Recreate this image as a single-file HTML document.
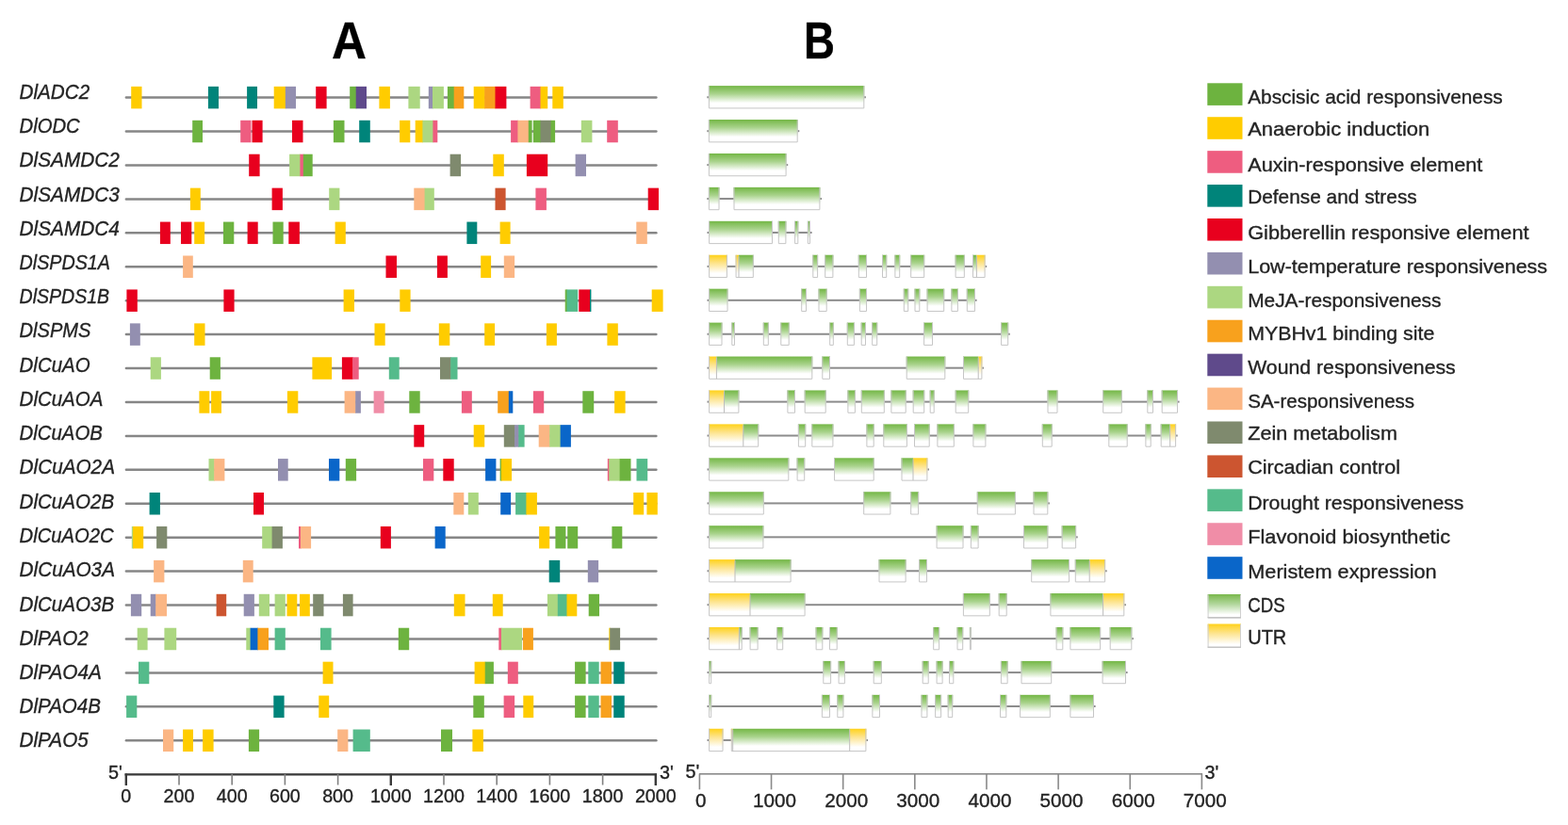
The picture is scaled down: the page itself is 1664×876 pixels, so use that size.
<!DOCTYPE html><html><head><meta charset="utf-8"><title>Cis-elements and gene structures</title><style>html,body{margin:0;padding:0;background:#fff;}svg{display:block;} text.t{stroke:#232323;stroke-width:0.35px;paint-order:stroke;}</style></head><body>
<svg width="1664" height="876" viewBox="0 0 1664 876">
<defs><linearGradient id="gc" x1="0" y1="0" x2="0" y2="1"><stop offset="0" stop-color="#74b746"/><stop offset="0.35" stop-color="#a9d38c"/><stop offset="0.75" stop-color="#ffffff"/><stop offset="1" stop-color="#ffffff"/></linearGradient>
<linearGradient id="gu" x1="0" y1="0" x2="0" y2="1"><stop offset="0" stop-color="#ffd21a"/><stop offset="0.35" stop-color="#fde38a"/><stop offset="0.8" stop-color="#ffffff"/><stop offset="1" stop-color="#ffffff"/></linearGradient><linearGradient id="Lc" x1="0" y1="0" x2="0" y2="1"><stop offset="0" stop-color="#79b84c"/><stop offset="0.4" stop-color="#b0d69a"/><stop offset="0.85" stop-color="#ffffff"/></linearGradient><linearGradient id="Lu" x1="0" y1="0" x2="0" y2="1"><stop offset="0" stop-color="#ffd11a"/><stop offset="0.4" stop-color="#fde592"/><stop offset="0.85" stop-color="#ffffff"/></linearGradient></defs>
<rect width="1664" height="876" fill="#fff"/>
<text class="t" x="352" y="62.2" font-family="&quot;Liberation Sans&quot;, sans-serif" font-weight="bold" font-size="56.3" textLength="37" lengthAdjust="spacingAndGlyphs" fill="#000">A</text>
<text class="t" x="853" y="62.2" font-family="&quot;Liberation Sans&quot;, sans-serif" font-weight="bold" font-size="56.3" textLength="33" lengthAdjust="spacingAndGlyphs" fill="#000">B</text>
<g id="panelA">
<line x1="133.9" y1="103.6" x2="696.4" y2="103.6" stroke="#868686" stroke-width="2.5" stroke-linecap="round"/>
<rect x="139.2" y="91.85" width="11.3" height="23.5" fill="#ffcc00"/>
<rect x="220.9" y="91.85" width="11.1" height="23.5" fill="#00847a"/>
<rect x="262.1" y="91.85" width="10.9" height="23.5" fill="#00847a"/>
<rect x="290.7" y="91.85" width="12.7" height="23.5" fill="#ffcc00"/>
<rect x="302.8" y="91.85" width="11.2" height="23.5" fill="#938fb0"/>
<rect x="335.2" y="91.85" width="11.4" height="23.5" fill="#e8001e"/>
<rect x="371.2" y="91.85" width="7.1" height="23.5" fill="#6db33f"/>
<rect x="377.7" y="91.85" width="11.3" height="23.5" fill="#5f4a8b"/>
<rect x="402.4" y="91.85" width="11.5" height="23.5" fill="#ffcc00"/>
<rect x="433.4" y="91.85" width="12.3" height="23.5" fill="#acd781"/>
<rect x="454.8" y="91.85" width="4.8" height="23.5" fill="#938fb0"/>
<rect x="459" y="91.85" width="11.9" height="23.5" fill="#acd781"/>
<rect x="474.9" y="91.85" width="7.4" height="23.5" fill="#6db33f"/>
<rect x="481.7" y="91.85" width="10.6" height="23.5" fill="#f8a11d"/>
<rect x="502.7" y="91.85" width="12.1" height="23.5" fill="#ffcc00"/>
<rect x="514.2" y="91.85" width="11.9" height="23.5" fill="#f8a11d"/>
<rect x="525.5" y="91.85" width="11.9" height="23.5" fill="#e8001e"/>
<rect x="562.6" y="91.85" width="11.5" height="23.5" fill="#ee5d80"/>
<rect x="573.5" y="91.85" width="7.7" height="23.5" fill="#ffcc00"/>
<rect x="586.3" y="91.85" width="11.5" height="23.5" fill="#ffcc00"/>
<text class="t" x="20.6" y="105.4" font-family="&quot;Liberation Sans&quot;, sans-serif" font-style="italic" font-size="21.4" textLength="74.55" lengthAdjust="spacingAndGlyphs" fill="#232323">DlADC2</text>
<line x1="133.9" y1="139.53" x2="696.4" y2="139.53" stroke="#868686" stroke-width="2.5" stroke-linecap="round"/>
<rect x="204.2" y="127.78" width="10.8" height="23.5" fill="#6db33f"/>
<rect x="255.2" y="127.78" width="11.3" height="23.5" fill="#ee5d80"/>
<rect x="267.5" y="127.78" width="11.1" height="23.5" fill="#e8001e"/>
<rect x="310" y="127.78" width="11.5" height="23.5" fill="#e8001e"/>
<rect x="353.9" y="127.78" width="11.6" height="23.5" fill="#6db33f"/>
<rect x="381.2" y="127.78" width="11.6" height="23.5" fill="#00847a"/>
<rect x="424.1" y="127.78" width="11.2" height="23.5" fill="#ffcc00"/>
<rect x="440.7" y="127.78" width="8.3" height="23.5" fill="#ffcc00"/>
<rect x="448.4" y="127.78" width="11.6" height="23.5" fill="#acd781"/>
<rect x="459.4" y="127.78" width="4.9" height="23.5" fill="#ee5d80"/>
<rect x="542.1" y="127.78" width="7.9" height="23.5" fill="#ee5d80"/>
<rect x="549.4" y="127.78" width="12" height="23.5" fill="#fbb684"/>
<rect x="560.8" y="127.78" width="3.8" height="23.5" fill="#6db33f"/>
<rect x="565.8" y="127.78" width="8.3" height="23.5" fill="#6db33f"/>
<rect x="573.5" y="127.78" width="11.6" height="23.5" fill="#7f8a6e"/>
<rect x="584.5" y="127.78" width="4.6" height="23.5" fill="#6db33f"/>
<rect x="616.8" y="127.78" width="11.6" height="23.5" fill="#acd781"/>
<rect x="644.2" y="127.78" width="11.6" height="23.5" fill="#ee5d80"/>
<text class="t" x="20.6" y="141.3" font-family="&quot;Liberation Sans&quot;, sans-serif" font-style="italic" font-size="21.4" textLength="64.07" lengthAdjust="spacingAndGlyphs" fill="#232323">DlODC</text>
<line x1="133.9" y1="175.46" x2="696.4" y2="175.46" stroke="#868686" stroke-width="2.5" stroke-linecap="round"/>
<rect x="264.2" y="163.71" width="11.4" height="23.5" fill="#e8001e"/>
<rect x="307.1" y="163.71" width="11.9" height="23.5" fill="#acd781"/>
<rect x="318.4" y="163.71" width="4" height="23.5" fill="#ee5d80"/>
<rect x="321.8" y="163.71" width="9.9" height="23.5" fill="#6db33f"/>
<rect x="477.6" y="163.71" width="11.5" height="23.5" fill="#7f8a6e"/>
<rect x="523.3" y="163.71" width="11.5" height="23.5" fill="#ffcc00"/>
<rect x="558.9" y="163.71" width="22.3" height="23.5" fill="#e8001e"/>
<rect x="610.6" y="163.71" width="11.4" height="23.5" fill="#938fb0"/>
<text class="t" x="20.6" y="176.9" font-family="&quot;Liberation Sans&quot;, sans-serif" font-style="italic" font-size="21.4" textLength="106.18" lengthAdjust="spacingAndGlyphs" fill="#232323">DlSAMDC2</text>
<line x1="133.9" y1="211.39" x2="696.4" y2="211.39" stroke="#868686" stroke-width="2.5" stroke-linecap="round"/>
<rect x="201.9" y="199.64" width="10.9" height="23.5" fill="#ffcc00"/>
<rect x="288.6" y="199.64" width="11.3" height="23.5" fill="#e8001e"/>
<rect x="349.2" y="199.64" width="11.2" height="23.5" fill="#acd781"/>
<rect x="439.3" y="199.64" width="11.9" height="23.5" fill="#fbb684"/>
<rect x="450.6" y="199.64" width="10.2" height="23.5" fill="#acd781"/>
<rect x="525.5" y="199.64" width="11.1" height="23.5" fill="#cc5530"/>
<rect x="568.4" y="199.64" width="11.5" height="23.5" fill="#ee5d80"/>
<rect x="687.7" y="199.64" width="11.3" height="23.5" fill="#e8001e"/>
<text class="t" x="20.6" y="213.7" font-family="&quot;Liberation Sans&quot;, sans-serif" font-style="italic" font-size="21.4" textLength="106.18" lengthAdjust="spacingAndGlyphs" fill="#232323">DlSAMDC3</text>
<line x1="133.9" y1="247.32" x2="696.4" y2="247.32" stroke="#868686" stroke-width="2.5" stroke-linecap="round"/>
<rect x="169.9" y="235.57" width="10.9" height="23.5" fill="#e8001e"/>
<rect x="192" y="235.57" width="11.3" height="23.5" fill="#e8001e"/>
<rect x="206.2" y="235.57" width="10.9" height="23.5" fill="#ffcc00"/>
<rect x="237" y="235.57" width="11.3" height="23.5" fill="#6db33f"/>
<rect x="262.6" y="235.57" width="11.1" height="23.5" fill="#e8001e"/>
<rect x="289.5" y="235.57" width="11.2" height="23.5" fill="#6db33f"/>
<rect x="306.3" y="235.57" width="11.6" height="23.5" fill="#e8001e"/>
<rect x="355.6" y="235.57" width="11.2" height="23.5" fill="#ffcc00"/>
<rect x="495.4" y="235.57" width="10.9" height="23.5" fill="#00847a"/>
<rect x="530.6" y="235.57" width="11" height="23.5" fill="#ffcc00"/>
<rect x="675.3" y="235.57" width="11.5" height="23.5" fill="#fbb684"/>
<text class="t" x="20.6" y="250.2" font-family="&quot;Liberation Sans&quot;, sans-serif" font-style="italic" font-size="21.4" textLength="106.18" lengthAdjust="spacingAndGlyphs" fill="#232323">DlSAMDC4</text>
<line x1="133.9" y1="283.25" x2="696.4" y2="283.25" stroke="#868686" stroke-width="2.5" stroke-linecap="round"/>
<rect x="194.1" y="271.5" width="10.7" height="23.5" fill="#fbb684"/>
<rect x="409.5" y="271.5" width="11.5" height="23.5" fill="#e8001e"/>
<rect x="463.9" y="271.5" width="11" height="23.5" fill="#e8001e"/>
<rect x="510.2" y="271.5" width="10.9" height="23.5" fill="#ffcc00"/>
<rect x="534.8" y="271.5" width="11.3" height="23.5" fill="#fbb684"/>
<text class="t" x="20.6" y="286.4" font-family="&quot;Liberation Sans&quot;, sans-serif" font-style="italic" font-size="21.4" textLength="96.38" lengthAdjust="spacingAndGlyphs" fill="#232323">DlSPDS1A</text>
<line x1="133.9" y1="319.18" x2="696.4" y2="319.18" stroke="#868686" stroke-width="2.5" stroke-linecap="round"/>
<rect x="134.4" y="307.43" width="11.4" height="23.5" fill="#e8001e"/>
<rect x="237.4" y="307.43" width="11.2" height="23.5" fill="#e8001e"/>
<rect x="364.6" y="307.43" width="11.4" height="23.5" fill="#ffcc00"/>
<rect x="424.3" y="307.43" width="11.3" height="23.5" fill="#ffcc00"/>
<rect x="599.7" y="307.43" width="2.4" height="23.5" fill="#6db33f"/>
<rect x="601.5" y="307.43" width="11.7" height="23.5" fill="#55bb8b"/>
<rect x="614.3" y="307.43" width="12.3" height="23.5" fill="#e8001e"/>
<rect x="626" y="307.43" width="1.4" height="23.5" fill="#00847a"/>
<rect x="691.7" y="307.43" width="11.9" height="23.5" fill="#ffcc00"/>
<text class="t" x="20.6" y="322" font-family="&quot;Liberation Sans&quot;, sans-serif" font-style="italic" font-size="21.4" textLength="95.54" lengthAdjust="spacingAndGlyphs" fill="#232323">DlSPDS1B</text>
<line x1="133.9" y1="355.11" x2="696.4" y2="355.11" stroke="#868686" stroke-width="2.5" stroke-linecap="round"/>
<rect x="137.9" y="343.36" width="10.9" height="23.5" fill="#938fb0"/>
<rect x="206.2" y="343.36" width="11.3" height="23.5" fill="#ffcc00"/>
<rect x="397.5" y="343.36" width="11.2" height="23.5" fill="#ffcc00"/>
<rect x="465.8" y="343.36" width="11.5" height="23.5" fill="#ffcc00"/>
<rect x="514.2" y="343.36" width="10.9" height="23.5" fill="#ffcc00"/>
<rect x="579.9" y="343.36" width="11" height="23.5" fill="#ffcc00"/>
<rect x="644.4" y="343.36" width="11.4" height="23.5" fill="#ffcc00"/>
<text class="t" x="20.6" y="357.9" font-family="&quot;Liberation Sans&quot;, sans-serif" font-style="italic" font-size="21.4" textLength="75.83" lengthAdjust="spacingAndGlyphs" fill="#232323">DlSPMS</text>
<line x1="133.9" y1="391.04" x2="696.4" y2="391.04" stroke="#868686" stroke-width="2.5" stroke-linecap="round"/>
<rect x="159.7" y="379.29" width="11.2" height="23.5" fill="#acd781"/>
<rect x="222.7" y="379.29" width="11.2" height="23.5" fill="#6db33f"/>
<rect x="331.4" y="379.29" width="20.7" height="23.5" fill="#ffcc00"/>
<rect x="362.9" y="379.29" width="11.8" height="23.5" fill="#e8001e"/>
<rect x="374.1" y="379.29" width="6.6" height="23.5" fill="#ee5d80"/>
<rect x="412.8" y="379.29" width="10.9" height="23.5" fill="#55bb8b"/>
<rect x="467" y="379.29" width="11.8" height="23.5" fill="#7f8a6e"/>
<rect x="478.2" y="379.29" width="7.3" height="23.5" fill="#55bb8b"/>
<text class="t" x="20.6" y="395.3" font-family="&quot;Liberation Sans&quot;, sans-serif" font-style="italic" font-size="21.4" textLength="74.99" lengthAdjust="spacingAndGlyphs" fill="#232323">DlCuAO</text>
<line x1="133.9" y1="426.97" x2="696.4" y2="426.97" stroke="#868686" stroke-width="2.5" stroke-linecap="round"/>
<rect x="211.4" y="415.22" width="10.9" height="23.5" fill="#ffcc00"/>
<rect x="224.1" y="415.22" width="10.9" height="23.5" fill="#ffcc00"/>
<rect x="304.9" y="415.22" width="11.4" height="23.5" fill="#ffcc00"/>
<rect x="365.6" y="415.22" width="12.2" height="23.5" fill="#fbb684"/>
<rect x="377.2" y="415.22" width="5.7" height="23.5" fill="#938fb0"/>
<rect x="396.6" y="415.22" width="11.1" height="23.5" fill="#f08da7"/>
<rect x="434.3" y="415.22" width="11.4" height="23.5" fill="#6db33f"/>
<rect x="489.9" y="415.22" width="10.9" height="23.5" fill="#ee5d80"/>
<rect x="528.2" y="415.22" width="12.2" height="23.5" fill="#f8a11d"/>
<rect x="539.8" y="415.22" width="4.5" height="23.5" fill="#0a66c9"/>
<rect x="565.9" y="415.22" width="11.3" height="23.5" fill="#ee5d80"/>
<rect x="618.3" y="415.22" width="11.9" height="23.5" fill="#6db33f"/>
<rect x="652.1" y="415.22" width="11.5" height="23.5" fill="#ffcc00"/>
<text class="t" x="20.6" y="430.6" font-family="&quot;Liberation Sans&quot;, sans-serif" font-style="italic" font-size="21.4" textLength="88.78" lengthAdjust="spacingAndGlyphs" fill="#232323">DlCuAOA</text>
<line x1="133.9" y1="462.9" x2="696.4" y2="462.9" stroke="#868686" stroke-width="2.5" stroke-linecap="round"/>
<rect x="439.3" y="451.15" width="10.9" height="23.5" fill="#e8001e"/>
<rect x="502.7" y="451.15" width="11.5" height="23.5" fill="#ffcc00"/>
<rect x="534.8" y="451.15" width="11.9" height="23.5" fill="#7f8a6e"/>
<rect x="546.1" y="451.15" width="4.8" height="23.5" fill="#938fb0"/>
<rect x="550.3" y="451.15" width="6.3" height="23.5" fill="#55bb8b"/>
<rect x="571.7" y="451.15" width="12.1" height="23.5" fill="#fbb684"/>
<rect x="583.2" y="451.15" width="12" height="23.5" fill="#acd781"/>
<rect x="594.6" y="451.15" width="11.3" height="23.5" fill="#0a66c9"/>
<text class="t" x="20.6" y="467.4" font-family="&quot;Liberation Sans&quot;, sans-serif" font-style="italic" font-size="21.4" textLength="88.21" lengthAdjust="spacingAndGlyphs" fill="#232323">DlCuAOB</text>
<line x1="133.9" y1="498.83" x2="696.4" y2="498.83" stroke="#868686" stroke-width="2.5" stroke-linecap="round"/>
<rect x="221.5" y="487.08" width="6.3" height="23.5" fill="#acd781"/>
<rect x="227.2" y="487.08" width="11.2" height="23.5" fill="#fbb684"/>
<rect x="295" y="487.08" width="10.7" height="23.5" fill="#938fb0"/>
<rect x="349" y="487.08" width="11.3" height="23.5" fill="#0a66c9"/>
<rect x="366.8" y="487.08" width="11.3" height="23.5" fill="#6db33f"/>
<rect x="449" y="487.08" width="11.3" height="23.5" fill="#ee5d80"/>
<rect x="470.3" y="487.08" width="11.4" height="23.5" fill="#e8001e"/>
<rect x="515.1" y="487.08" width="11.3" height="23.5" fill="#0a66c9"/>
<rect x="530.6" y="487.08" width="1.9" height="23.5" fill="#6db33f"/>
<rect x="531.9" y="487.08" width="11.1" height="23.5" fill="#ffcc00"/>
<rect x="644.8" y="487.08" width="2.1" height="23.5" fill="#ee5d80"/>
<rect x="646.3" y="487.08" width="11.9" height="23.5" fill="#acd781"/>
<rect x="657.6" y="487.08" width="11.9" height="23.5" fill="#6db33f"/>
<rect x="675.5" y="487.08" width="11.7" height="23.5" fill="#55bb8b"/>
<text class="t" x="20.6" y="503.4" font-family="&quot;Liberation Sans&quot;, sans-serif" font-style="italic" font-size="21.4" textLength="101.37" lengthAdjust="spacingAndGlyphs" fill="#232323">DlCuAO2A</text>
<line x1="133.9" y1="534.76" x2="696.4" y2="534.76" stroke="#868686" stroke-width="2.5" stroke-linecap="round"/>
<rect x="158.6" y="523.01" width="11.3" height="23.5" fill="#00847a"/>
<rect x="269" y="523.01" width="11" height="23.5" fill="#e8001e"/>
<rect x="481.3" y="523.01" width="11" height="23.5" fill="#fbb684"/>
<rect x="496.8" y="523.01" width="11" height="23.5" fill="#acd781"/>
<rect x="531.2" y="523.01" width="10.9" height="23.5" fill="#0a66c9"/>
<rect x="547.1" y="523.01" width="11.9" height="23.5" fill="#55bb8b"/>
<rect x="558.4" y="523.01" width="11.5" height="23.5" fill="#ffcc00"/>
<rect x="672.2" y="523.01" width="11" height="23.5" fill="#ffcc00"/>
<rect x="686.4" y="523.01" width="11.4" height="23.5" fill="#ffcc00"/>
<text class="t" x="20.6" y="539.8" font-family="&quot;Liberation Sans&quot;, sans-serif" font-style="italic" font-size="21.4" textLength="100.52" lengthAdjust="spacingAndGlyphs" fill="#232323">DlCuAO2B</text>
<line x1="133.9" y1="570.69" x2="696.4" y2="570.69" stroke="#868686" stroke-width="2.5" stroke-linecap="round"/>
<rect x="139.8" y="558.94" width="1.8" height="23.5" fill="#acd781"/>
<rect x="141" y="558.94" width="11.2" height="23.5" fill="#ffcc00"/>
<rect x="166.1" y="558.94" width="11.2" height="23.5" fill="#7f8a6e"/>
<rect x="278.2" y="558.94" width="11" height="23.5" fill="#acd781"/>
<rect x="288.6" y="558.94" width="11.3" height="23.5" fill="#7f8a6e"/>
<rect x="317" y="558.94" width="2.6" height="23.5" fill="#ee5d80"/>
<rect x="319" y="558.94" width="11.1" height="23.5" fill="#fbb684"/>
<rect x="403.8" y="558.94" width="11.1" height="23.5" fill="#e8001e"/>
<rect x="461.6" y="558.94" width="11.1" height="23.5" fill="#0a66c9"/>
<rect x="572.1" y="558.94" width="11.1" height="23.5" fill="#ffcc00"/>
<rect x="589.4" y="558.94" width="11" height="23.5" fill="#6db33f"/>
<rect x="602.2" y="558.94" width="11" height="23.5" fill="#6db33f"/>
<rect x="649.4" y="558.94" width="10.9" height="23.5" fill="#6db33f"/>
<text class="t" x="20.6" y="575.9" font-family="&quot;Liberation Sans&quot;, sans-serif" font-style="italic" font-size="21.4" textLength="100" lengthAdjust="spacingAndGlyphs" fill="#232323">DlCuAO2C</text>
<line x1="133.9" y1="606.62" x2="696.4" y2="606.62" stroke="#868686" stroke-width="2.5" stroke-linecap="round"/>
<rect x="163.1" y="594.87" width="11.3" height="23.5" fill="#fbb684"/>
<rect x="257.8" y="594.87" width="10.9" height="23.5" fill="#fbb684"/>
<rect x="582.7" y="594.87" width="11.5" height="23.5" fill="#00847a"/>
<rect x="623.8" y="594.87" width="11.3" height="23.5" fill="#938fb0"/>
<text class="t" x="20.6" y="611.9" font-family="&quot;Liberation Sans&quot;, sans-serif" font-style="italic" font-size="21.4" textLength="101.37" lengthAdjust="spacingAndGlyphs" fill="#232323">DlCuAO3A</text>
<line x1="133.9" y1="642.55" x2="696.4" y2="642.55" stroke="#868686" stroke-width="2.5" stroke-linecap="round"/>
<rect x="138.9" y="630.8" width="11.3" height="23.5" fill="#938fb0"/>
<rect x="159.7" y="630.8" width="6.1" height="23.5" fill="#938fb0"/>
<rect x="165.2" y="630.8" width="11.8" height="23.5" fill="#fbb684"/>
<rect x="229.6" y="630.8" width="10.6" height="23.5" fill="#cc5530"/>
<rect x="258.7" y="630.8" width="11.2" height="23.5" fill="#938fb0"/>
<rect x="274.8" y="630.8" width="11.2" height="23.5" fill="#acd781"/>
<rect x="291.6" y="630.8" width="11.2" height="23.5" fill="#acd781"/>
<rect x="304.5" y="630.8" width="10.8" height="23.5" fill="#ffcc00"/>
<rect x="318" y="630.8" width="10.8" height="23.5" fill="#ffcc00"/>
<rect x="332.2" y="630.8" width="11.3" height="23.5" fill="#7f8a6e"/>
<rect x="363.9" y="630.8" width="10.7" height="23.5" fill="#7f8a6e"/>
<rect x="481.8" y="630.8" width="11.7" height="23.5" fill="#ffcc00"/>
<rect x="522.8" y="630.8" width="10.9" height="23.5" fill="#ffcc00"/>
<rect x="580.9" y="630.8" width="11.5" height="23.5" fill="#acd781"/>
<rect x="591.8" y="630.8" width="10.3" height="23.5" fill="#55bb8b"/>
<rect x="601.5" y="630.8" width="10.8" height="23.5" fill="#ffcc00"/>
<rect x="624.7" y="630.8" width="11.3" height="23.5" fill="#6db33f"/>
<text class="t" x="20.6" y="648.5" font-family="&quot;Liberation Sans&quot;, sans-serif" font-style="italic" font-size="21.4" textLength="100.52" lengthAdjust="spacingAndGlyphs" fill="#232323">DlCuAO3B</text>
<line x1="133.9" y1="678.48" x2="696.4" y2="678.48" stroke="#868686" stroke-width="2.5" stroke-linecap="round"/>
<rect x="145.7" y="666.73" width="10.9" height="23.5" fill="#acd781"/>
<rect x="174.4" y="666.73" width="12.8" height="23.5" fill="#acd781"/>
<rect x="261.3" y="666.73" width="4.9" height="23.5" fill="#acd781"/>
<rect x="265.6" y="666.73" width="8.4" height="23.5" fill="#0a66c9"/>
<rect x="273.4" y="666.73" width="11.6" height="23.5" fill="#f8a11d"/>
<rect x="291.6" y="666.73" width="11.2" height="23.5" fill="#55bb8b"/>
<rect x="340" y="666.73" width="11.6" height="23.5" fill="#55bb8b"/>
<rect x="422.8" y="666.73" width="11.4" height="23.5" fill="#6db33f"/>
<rect x="529.3" y="666.73" width="3.2" height="23.5" fill="#ee5d80"/>
<rect x="531.9" y="666.73" width="22.1" height="23.5" fill="#acd781"/>
<rect x="554.9" y="666.73" width="11" height="23.5" fill="#f8a11d"/>
<rect x="646.3" y="666.73" width="1.5" height="23.5" fill="#ffcc00"/>
<rect x="647.2" y="666.73" width="10.9" height="23.5" fill="#7f8a6e"/>
<text class="t" x="20.6" y="685" font-family="&quot;Liberation Sans&quot;, sans-serif" font-style="italic" font-size="21.4" textLength="73.13" lengthAdjust="spacingAndGlyphs" fill="#232323">DlPAO2</text>
<line x1="133.9" y1="714.41" x2="696.4" y2="714.41" stroke="#868686" stroke-width="2.5" stroke-linecap="round"/>
<rect x="147" y="702.66" width="11.3" height="23.5" fill="#55bb8b"/>
<rect x="342.6" y="702.66" width="10.9" height="23.5" fill="#ffcc00"/>
<rect x="503.6" y="702.66" width="11.7" height="23.5" fill="#ffcc00"/>
<rect x="514.7" y="702.66" width="9.2" height="23.5" fill="#6db33f"/>
<rect x="538.8" y="702.66" width="11" height="23.5" fill="#ee5d80"/>
<rect x="610.1" y="702.66" width="11.5" height="23.5" fill="#6db33f"/>
<rect x="624.3" y="702.66" width="11.4" height="23.5" fill="#55bb8b"/>
<rect x="637.5" y="702.66" width="11.5" height="23.5" fill="#f8a11d"/>
<rect x="651.2" y="702.66" width="11.5" height="23.5" fill="#00847a"/>
<text class="t" x="20.6" y="721.4" font-family="&quot;Liberation Sans&quot;, sans-serif" font-style="italic" font-size="21.4" textLength="87.19" lengthAdjust="spacingAndGlyphs" fill="#232323">DlPAO4A</text>
<line x1="133.9" y1="750.34" x2="696.4" y2="750.34" stroke="#868686" stroke-width="2.5" stroke-linecap="round"/>
<rect x="134.1" y="738.59" width="11.2" height="23.5" fill="#55bb8b"/>
<rect x="290.3" y="738.59" width="11.3" height="23.5" fill="#00847a"/>
<rect x="338.3" y="738.59" width="10.9" height="23.5" fill="#ffcc00"/>
<rect x="502.3" y="738.59" width="11.5" height="23.5" fill="#6db33f"/>
<rect x="534.6" y="738.59" width="11.5" height="23.5" fill="#ee5d80"/>
<rect x="555.3" y="738.59" width="10.9" height="23.5" fill="#ffcc00"/>
<rect x="610.1" y="738.59" width="11.5" height="23.5" fill="#6db33f"/>
<rect x="624.3" y="738.59" width="11.4" height="23.5" fill="#55bb8b"/>
<rect x="637.5" y="738.59" width="11.5" height="23.5" fill="#f8a11d"/>
<rect x="651.2" y="738.59" width="11.5" height="23.5" fill="#00847a"/>
<text class="t" x="20.6" y="757" font-family="&quot;Liberation Sans&quot;, sans-serif" font-style="italic" font-size="21.4" textLength="86.34" lengthAdjust="spacingAndGlyphs" fill="#232323">DlPAO4B</text>
<line x1="133.9" y1="786.27" x2="696.4" y2="786.27" stroke="#868686" stroke-width="2.5" stroke-linecap="round"/>
<rect x="173" y="774.52" width="11.2" height="23.5" fill="#fbb684"/>
<rect x="194.1" y="774.52" width="10.9" height="23.5" fill="#ffcc00"/>
<rect x="215.1" y="774.52" width="11.5" height="23.5" fill="#ffcc00"/>
<rect x="263.9" y="774.52" width="11.2" height="23.5" fill="#6db33f"/>
<rect x="358.2" y="774.52" width="11.2" height="23.5" fill="#fbb684"/>
<rect x="374.6" y="774.52" width="18.2" height="23.5" fill="#55bb8b"/>
<rect x="468" y="774.52" width="12" height="23.5" fill="#6db33f"/>
<rect x="501.4" y="774.52" width="11.5" height="23.5" fill="#ffcc00"/>
<text class="t" x="20.6" y="792.9" font-family="&quot;Liberation Sans&quot;, sans-serif" font-style="italic" font-size="21.4" textLength="73.13" lengthAdjust="spacingAndGlyphs" fill="#232323">DlPAO5</text>
</g>
<g id="panelB">
<rect x="750.3" y="102.25" width="168.6" height="2" fill="#8c8c8c"/>
<rect x="751.9" y="91.1" width="165.4" height="24.3" fill="url(#gc)"/>
<path d="M752.4 91.1V114.9H916.8V91.1" fill="none" stroke="#c6c6c6" stroke-width="1"/>
<rect x="750.3" y="138.18" width="98" height="2" fill="#8c8c8c"/>
<rect x="751.9" y="127.03" width="94.8" height="24.3" fill="url(#gc)"/>
<path d="M752.4 127.03V150.83H846.2V127.03" fill="none" stroke="#c6c6c6" stroke-width="1"/>
<rect x="750.3" y="174.11" width="85.9" height="2" fill="#8c8c8c"/>
<rect x="751.9" y="162.96" width="82.7" height="24.3" fill="url(#gc)"/>
<path d="M752.4 162.96V186.76H834.1V162.96" fill="none" stroke="#c6c6c6" stroke-width="1"/>
<rect x="750.3" y="210.04" width="121.7" height="2" fill="#8c8c8c"/>
<rect x="751.9" y="198.89" width="11.6" height="24.3" fill="url(#gc)"/>
<path d="M752.4 198.89V222.69H763V198.89" fill="none" stroke="#c6c6c6" stroke-width="1"/>
<rect x="778.5" y="198.89" width="91.9" height="24.3" fill="url(#gc)"/>
<path d="M779 198.89V222.69H869.9V198.89" fill="none" stroke="#c6c6c6" stroke-width="1"/>
<rect x="750.5" y="245.97" width="111.1" height="2" fill="#8c8c8c"/>
<rect x="752.1" y="234.82" width="67.9" height="24.3" fill="url(#gc)"/>
<path d="M752.6 234.82V258.62H819.5V234.82" fill="none" stroke="#c6c6c6" stroke-width="1"/>
<rect x="825.8" y="234.82" width="8.6" height="24.3" fill="url(#gc)"/>
<path d="M826.3 234.82V258.62H833.9V234.82" fill="none" stroke="#c6c6c6" stroke-width="1"/>
<rect x="843.1" y="234.82" width="4.2" height="24.3" fill="url(#gc)"/>
<path d="M843.6 234.82V258.62H846.8V234.82" fill="none" stroke="#c6c6c6" stroke-width="1"/>
<rect x="856.9" y="234.82" width="3.1" height="24.3" fill="url(#gc)"/>
<path d="M857.4 234.82V258.62H859.5V234.82" fill="none" stroke="#c6c6c6" stroke-width="1"/>
<rect x="750.5" y="281.9" width="296.7" height="2" fill="#8c8c8c"/>
<rect x="752.1" y="270.75" width="19.8" height="24.3" fill="url(#gu)"/>
<path d="M752.6 270.75V294.55H771.4V270.75" fill="none" stroke="#c6c6c6" stroke-width="1"/>
<rect x="780.6" y="270.75" width="3.4" height="24.3" fill="url(#gu)"/>
<rect x="784" y="270.75" width="15.8" height="24.3" fill="url(#gc)"/>
<path d="M781.1 270.75V294.55H799.3V270.75" fill="none" stroke="#c6c6c6" stroke-width="1"/>
<path d="M784 271.75V294.55" stroke="#bdbdbd" stroke-width="1"/>
<rect x="862.3" y="270.75" width="5.8" height="24.3" fill="url(#gc)"/>
<path d="M862.8 270.75V294.55H867.6V270.75" fill="none" stroke="#c6c6c6" stroke-width="1"/>
<rect x="875.2" y="270.75" width="9.2" height="24.3" fill="url(#gc)"/>
<path d="M875.7 270.75V294.55H883.9V270.75" fill="none" stroke="#c6c6c6" stroke-width="1"/>
<rect x="910.8" y="270.75" width="9.2" height="24.3" fill="url(#gc)"/>
<path d="M911.3 270.75V294.55H919.5V270.75" fill="none" stroke="#c6c6c6" stroke-width="1"/>
<rect x="936" y="270.75" width="5.2" height="24.3" fill="url(#gc)"/>
<path d="M936.5 270.75V294.55H940.7V270.75" fill="none" stroke="#c6c6c6" stroke-width="1"/>
<rect x="949.4" y="270.75" width="5.8" height="24.3" fill="url(#gc)"/>
<path d="M949.9 270.75V294.55H954.7V270.75" fill="none" stroke="#c6c6c6" stroke-width="1"/>
<rect x="966.2" y="270.75" width="15" height="24.3" fill="url(#gc)"/>
<path d="M966.7 270.75V294.55H980.7V270.75" fill="none" stroke="#c6c6c6" stroke-width="1"/>
<rect x="1013.6" y="270.75" width="10.2" height="24.3" fill="url(#gc)"/>
<path d="M1014.1 270.75V294.55H1023.3V270.75" fill="none" stroke="#c6c6c6" stroke-width="1"/>
<rect x="1032" y="270.75" width="4.4" height="24.3" fill="url(#gc)"/>
<rect x="1036.4" y="270.75" width="9.2" height="24.3" fill="url(#gu)"/>
<path d="M1032.5 270.75V294.55H1045.1V270.75" fill="none" stroke="#c6c6c6" stroke-width="1"/>
<path d="M1036.4 271.75V294.55" stroke="#bdbdbd" stroke-width="1"/>
<rect x="750.5" y="317.83" width="286.1" height="2" fill="#8c8c8c"/>
<rect x="752.1" y="306.68" width="20.4" height="24.3" fill="url(#gc)"/>
<path d="M752.6 306.68V330.48H772V306.68" fill="none" stroke="#c6c6c6" stroke-width="1"/>
<rect x="850.2" y="306.68" width="5.8" height="24.3" fill="url(#gc)"/>
<path d="M850.7 306.68V330.48H855.5V306.68" fill="none" stroke="#c6c6c6" stroke-width="1"/>
<rect x="868.5" y="306.68" width="9.2" height="24.3" fill="url(#gc)"/>
<path d="M869 306.68V330.48H877.2V306.68" fill="none" stroke="#c6c6c6" stroke-width="1"/>
<rect x="911.9" y="306.68" width="8.1" height="24.3" fill="url(#gc)"/>
<path d="M912.4 306.68V330.48H919.5V306.68" fill="none" stroke="#c6c6c6" stroke-width="1"/>
<rect x="958.8" y="306.68" width="5.4" height="24.3" fill="url(#gc)"/>
<path d="M959.3 306.68V330.48H963.7V306.68" fill="none" stroke="#c6c6c6" stroke-width="1"/>
<rect x="970.5" y="306.68" width="5.8" height="24.3" fill="url(#gc)"/>
<path d="M971 306.68V330.48H975.8V306.68" fill="none" stroke="#c6c6c6" stroke-width="1"/>
<rect x="983.6" y="306.68" width="18.6" height="24.3" fill="url(#gc)"/>
<path d="M984.1 306.68V330.48H1001.7V306.68" fill="none" stroke="#c6c6c6" stroke-width="1"/>
<rect x="1009.4" y="306.68" width="7.5" height="24.3" fill="url(#gc)"/>
<path d="M1009.9 306.68V330.48H1016.4V306.68" fill="none" stroke="#c6c6c6" stroke-width="1"/>
<rect x="1025.8" y="306.68" width="9.2" height="24.3" fill="url(#gc)"/>
<path d="M1026.3 306.68V330.48H1034.5V306.68" fill="none" stroke="#c6c6c6" stroke-width="1"/>
<rect x="750.5" y="353.76" width="321.3" height="2" fill="#8c8c8c"/>
<rect x="752.1" y="342.61" width="14.4" height="24.3" fill="url(#gc)"/>
<path d="M752.6 342.61V366.41H766V342.61" fill="none" stroke="#c6c6c6" stroke-width="1"/>
<rect x="776.3" y="342.61" width="3.7" height="24.3" fill="url(#gc)"/>
<path d="M776.8 342.61V366.41H779.5V342.61" fill="none" stroke="#c6c6c6" stroke-width="1"/>
<rect x="809.8" y="342.61" width="6" height="24.3" fill="url(#gc)"/>
<path d="M810.3 342.61V366.41H815.3V342.61" fill="none" stroke="#c6c6c6" stroke-width="1"/>
<rect x="828.3" y="342.61" width="9.4" height="24.3" fill="url(#gc)"/>
<path d="M828.8 342.61V366.41H837.2V342.61" fill="none" stroke="#c6c6c6" stroke-width="1"/>
<rect x="880.2" y="342.61" width="4.6" height="24.3" fill="url(#gc)"/>
<path d="M880.7 342.61V366.41H884.3V342.61" fill="none" stroke="#c6c6c6" stroke-width="1"/>
<rect x="898.8" y="342.61" width="8.1" height="24.3" fill="url(#gc)"/>
<path d="M899.3 342.61V366.41H906.4V342.61" fill="none" stroke="#c6c6c6" stroke-width="1"/>
<rect x="913.7" y="342.61" width="5.3" height="24.3" fill="url(#gc)"/>
<path d="M914.2 342.61V366.41H918.5V342.61" fill="none" stroke="#c6c6c6" stroke-width="1"/>
<rect x="925.2" y="342.61" width="6" height="24.3" fill="url(#gc)"/>
<path d="M925.7 342.61V366.41H930.7V342.61" fill="none" stroke="#c6c6c6" stroke-width="1"/>
<rect x="980.1" y="342.61" width="9.9" height="24.3" fill="url(#gc)"/>
<path d="M980.6 342.61V366.41H989.5V342.61" fill="none" stroke="#c6c6c6" stroke-width="1"/>
<rect x="1062.1" y="342.61" width="8.1" height="24.3" fill="url(#gc)"/>
<path d="M1062.6 342.61V366.41H1069.7V342.61" fill="none" stroke="#c6c6c6" stroke-width="1"/>
<rect x="750.5" y="389.69" width="293.5" height="2" fill="#8c8c8c"/>
<rect x="752.1" y="378.54" width="8.3" height="24.3" fill="url(#gu)"/>
<rect x="760.4" y="378.54" width="101.9" height="24.3" fill="url(#gc)"/>
<path d="M752.6 378.54V402.34H861.8V378.54" fill="none" stroke="#c6c6c6" stroke-width="1"/>
<path d="M760.4 379.54V402.34" stroke="#bdbdbd" stroke-width="1"/>
<rect x="872.3" y="378.54" width="8.7" height="24.3" fill="url(#gc)"/>
<path d="M872.8 378.54V402.34H880.5V378.54" fill="none" stroke="#c6c6c6" stroke-width="1"/>
<rect x="961.7" y="378.54" width="41.6" height="24.3" fill="url(#gc)"/>
<path d="M962.2 378.54V402.34H1002.8V378.54" fill="none" stroke="#c6c6c6" stroke-width="1"/>
<rect x="1022" y="378.54" width="16.2" height="24.3" fill="url(#gc)"/>
<rect x="1038.2" y="378.54" width="4.2" height="24.3" fill="url(#gu)"/>
<path d="M1022.5 378.54V402.34H1041.9V378.54" fill="none" stroke="#c6c6c6" stroke-width="1"/>
<path d="M1038.2 379.54V402.34" stroke="#bdbdbd" stroke-width="1"/>
<rect x="750.5" y="425.62" width="501.1" height="2" fill="#8c8c8c"/>
<rect x="752.1" y="414.47" width="16.4" height="24.3" fill="url(#gu)"/>
<rect x="768.5" y="414.47" width="15.9" height="24.3" fill="url(#gc)"/>
<path d="M752.6 414.47V438.27H783.9V414.47" fill="none" stroke="#c6c6c6" stroke-width="1"/>
<path d="M768.5 415.47V438.27" stroke="#bdbdbd" stroke-width="1"/>
<rect x="835.4" y="414.47" width="8.6" height="24.3" fill="url(#gc)"/>
<path d="M835.9 414.47V438.27H843.5V414.47" fill="none" stroke="#c6c6c6" stroke-width="1"/>
<rect x="853.7" y="414.47" width="23" height="24.3" fill="url(#gc)"/>
<path d="M854.2 414.47V438.27H876.2V414.47" fill="none" stroke="#c6c6c6" stroke-width="1"/>
<rect x="899.4" y="414.47" width="8.5" height="24.3" fill="url(#gc)"/>
<path d="M899.9 414.47V438.27H907.4V414.47" fill="none" stroke="#c6c6c6" stroke-width="1"/>
<rect x="913.8" y="414.47" width="25" height="24.3" fill="url(#gc)"/>
<path d="M914.3 414.47V438.27H938.3V414.47" fill="none" stroke="#c6c6c6" stroke-width="1"/>
<rect x="945.4" y="414.47" width="16.3" height="24.3" fill="url(#gc)"/>
<path d="M945.9 414.47V438.27H961.2V414.47" fill="none" stroke="#c6c6c6" stroke-width="1"/>
<rect x="968.7" y="414.47" width="12.5" height="24.3" fill="url(#gc)"/>
<path d="M969.2 414.47V438.27H980.7V414.47" fill="none" stroke="#c6c6c6" stroke-width="1"/>
<rect x="986.7" y="414.47" width="5" height="24.3" fill="url(#gc)"/>
<path d="M987.2 414.47V438.27H991.2V414.47" fill="none" stroke="#c6c6c6" stroke-width="1"/>
<rect x="1013.7" y="414.47" width="14.5" height="24.3" fill="url(#gc)"/>
<path d="M1014.2 414.47V438.27H1027.7V414.47" fill="none" stroke="#c6c6c6" stroke-width="1"/>
<rect x="1111.5" y="414.47" width="11" height="24.3" fill="url(#gc)"/>
<path d="M1112 414.47V438.27H1122V414.47" fill="none" stroke="#c6c6c6" stroke-width="1"/>
<rect x="1170.2" y="414.47" width="20.6" height="24.3" fill="url(#gc)"/>
<path d="M1170.7 414.47V438.27H1190.3V414.47" fill="none" stroke="#c6c6c6" stroke-width="1"/>
<rect x="1217.3" y="414.47" width="6.7" height="24.3" fill="url(#gc)"/>
<path d="M1217.8 414.47V438.27H1223.5V414.47" fill="none" stroke="#c6c6c6" stroke-width="1"/>
<rect x="1232.7" y="414.47" width="17.3" height="24.3" fill="url(#gc)"/>
<path d="M1233.2 414.47V438.27H1249.5V414.47" fill="none" stroke="#c6c6c6" stroke-width="1"/>
<rect x="750.5" y="461.55" width="499.2" height="2" fill="#8c8c8c"/>
<rect x="752.1" y="450.4" width="36.7" height="24.3" fill="url(#gu)"/>
<rect x="788.8" y="450.4" width="16.4" height="24.3" fill="url(#gc)"/>
<path d="M752.6 450.4V474.2H804.7V450.4" fill="none" stroke="#c6c6c6" stroke-width="1"/>
<path d="M788.8 451.4V474.2" stroke="#bdbdbd" stroke-width="1"/>
<rect x="846.9" y="450.4" width="8.3" height="24.3" fill="url(#gc)"/>
<path d="M847.4 450.4V474.2H854.7V450.4" fill="none" stroke="#c6c6c6" stroke-width="1"/>
<rect x="861.3" y="450.4" width="23.1" height="24.3" fill="url(#gc)"/>
<path d="M861.8 450.4V474.2H883.9V450.4" fill="none" stroke="#c6c6c6" stroke-width="1"/>
<rect x="919.4" y="450.4" width="8.3" height="24.3" fill="url(#gc)"/>
<path d="M919.9 450.4V474.2H927.2V450.4" fill="none" stroke="#c6c6c6" stroke-width="1"/>
<rect x="937.3" y="450.4" width="25.6" height="24.3" fill="url(#gc)"/>
<path d="M937.8 450.4V474.2H962.4V450.4" fill="none" stroke="#c6c6c6" stroke-width="1"/>
<rect x="970" y="450.4" width="16.7" height="24.3" fill="url(#gc)"/>
<path d="M970.5 450.4V474.2H986.2V450.4" fill="none" stroke="#c6c6c6" stroke-width="1"/>
<rect x="994.4" y="450.4" width="18.4" height="24.3" fill="url(#gc)"/>
<path d="M994.9 450.4V474.2H1012.3V450.4" fill="none" stroke="#c6c6c6" stroke-width="1"/>
<rect x="1032.4" y="450.4" width="14" height="24.3" fill="url(#gc)"/>
<path d="M1032.9 450.4V474.2H1045.9V450.4" fill="none" stroke="#c6c6c6" stroke-width="1"/>
<rect x="1105.8" y="450.4" width="10.9" height="24.3" fill="url(#gc)"/>
<path d="M1106.3 450.4V474.2H1116.2V450.4" fill="none" stroke="#c6c6c6" stroke-width="1"/>
<rect x="1176.3" y="450.4" width="20.4" height="24.3" fill="url(#gc)"/>
<path d="M1176.8 450.4V474.2H1196.2V450.4" fill="none" stroke="#c6c6c6" stroke-width="1"/>
<rect x="1215.4" y="450.4" width="6.3" height="24.3" fill="url(#gc)"/>
<path d="M1215.9 450.4V474.2H1221.2V450.4" fill="none" stroke="#c6c6c6" stroke-width="1"/>
<rect x="1231.7" y="450.4" width="10" height="24.3" fill="url(#gc)"/>
<rect x="1241.7" y="450.4" width="6.4" height="24.3" fill="url(#gu)"/>
<path d="M1232.2 450.4V474.2H1247.6V450.4" fill="none" stroke="#c6c6c6" stroke-width="1"/>
<path d="M1241.7 451.4V474.2" stroke="#bdbdbd" stroke-width="1"/>
<rect x="750.5" y="497.48" width="235.5" height="2" fill="#8c8c8c"/>
<rect x="752.1" y="486.33" width="85.2" height="24.3" fill="url(#gc)"/>
<path d="M752.6 486.33V510.13H836.8V486.33" fill="none" stroke="#c6c6c6" stroke-width="1"/>
<rect x="845.6" y="486.33" width="8.6" height="24.3" fill="url(#gc)"/>
<path d="M846.1 486.33V510.13H853.7V486.33" fill="none" stroke="#c6c6c6" stroke-width="1"/>
<rect x="885" y="486.33" width="42.7" height="24.3" fill="url(#gc)"/>
<path d="M885.5 486.33V510.13H927.2V486.33" fill="none" stroke="#c6c6c6" stroke-width="1"/>
<rect x="956.5" y="486.33" width="12.5" height="24.3" fill="url(#gc)"/>
<rect x="969" y="486.33" width="15.4" height="24.3" fill="url(#gu)"/>
<path d="M957 486.33V510.13H983.9V486.33" fill="none" stroke="#c6c6c6" stroke-width="1"/>
<path d="M969 487.33V510.13" stroke="#bdbdbd" stroke-width="1"/>
<rect x="750.5" y="533.41" width="363.4" height="2" fill="#8c8c8c"/>
<rect x="752.1" y="522.26" width="58.7" height="24.3" fill="url(#gc)"/>
<path d="M752.6 522.26V546.06H810.3V522.26" fill="none" stroke="#c6c6c6" stroke-width="1"/>
<rect x="916.2" y="522.26" width="29.2" height="24.3" fill="url(#gc)"/>
<path d="M916.7 522.26V546.06H944.9V522.26" fill="none" stroke="#c6c6c6" stroke-width="1"/>
<rect x="966.2" y="522.26" width="8.9" height="24.3" fill="url(#gc)"/>
<path d="M966.7 522.26V546.06H974.6V522.26" fill="none" stroke="#c6c6c6" stroke-width="1"/>
<rect x="1036.8" y="522.26" width="41.1" height="24.3" fill="url(#gc)"/>
<path d="M1037.3 522.26V546.06H1077.4V522.26" fill="none" stroke="#c6c6c6" stroke-width="1"/>
<rect x="1096.5" y="522.26" width="15.8" height="24.3" fill="url(#gc)"/>
<path d="M1097 522.26V546.06H1111.8V522.26" fill="none" stroke="#c6c6c6" stroke-width="1"/>
<rect x="750.5" y="569.34" width="393.2" height="2" fill="#8c8c8c"/>
<rect x="752.1" y="558.19" width="58.3" height="24.3" fill="url(#gc)"/>
<path d="M752.6 558.19V581.99H809.9V558.19" fill="none" stroke="#c6c6c6" stroke-width="1"/>
<rect x="993.6" y="558.19" width="28.9" height="24.3" fill="url(#gc)"/>
<path d="M994.1 558.19V581.99H1022V558.19" fill="none" stroke="#c6c6c6" stroke-width="1"/>
<rect x="1029.9" y="558.19" width="8.7" height="24.3" fill="url(#gc)"/>
<path d="M1030.4 558.19V581.99H1038.1V558.19" fill="none" stroke="#c6c6c6" stroke-width="1"/>
<rect x="1086" y="558.19" width="26.3" height="24.3" fill="url(#gc)"/>
<path d="M1086.5 558.19V581.99H1111.8V558.19" fill="none" stroke="#c6c6c6" stroke-width="1"/>
<rect x="1126.7" y="558.19" width="15.4" height="24.3" fill="url(#gc)"/>
<path d="M1127.2 558.19V581.99H1141.6V558.19" fill="none" stroke="#c6c6c6" stroke-width="1"/>
<rect x="750.5" y="605.27" width="424.2" height="2" fill="#8c8c8c"/>
<rect x="752.1" y="594.12" width="27.9" height="24.3" fill="url(#gu)"/>
<rect x="780" y="594.12" width="59.6" height="24.3" fill="url(#gc)"/>
<path d="M752.6 594.12V617.92H839.1V594.12" fill="none" stroke="#c6c6c6" stroke-width="1"/>
<path d="M780 595.12V617.92" stroke="#bdbdbd" stroke-width="1"/>
<rect x="932.5" y="594.12" width="29.1" height="24.3" fill="url(#gc)"/>
<path d="M933 594.12V617.92H961.1V594.12" fill="none" stroke="#c6c6c6" stroke-width="1"/>
<rect x="975.1" y="594.12" width="8.9" height="24.3" fill="url(#gc)"/>
<path d="M975.6 594.12V617.92H983.5V594.12" fill="none" stroke="#c6c6c6" stroke-width="1"/>
<rect x="1094.2" y="594.12" width="40.8" height="24.3" fill="url(#gc)"/>
<path d="M1094.7 594.12V617.92H1134.5V594.12" fill="none" stroke="#c6c6c6" stroke-width="1"/>
<rect x="1140.8" y="594.12" width="15.4" height="24.3" fill="url(#gc)"/>
<rect x="1156.2" y="594.12" width="16.9" height="24.3" fill="url(#gu)"/>
<path d="M1141.3 594.12V617.92H1172.6V594.12" fill="none" stroke="#c6c6c6" stroke-width="1"/>
<path d="M1156.2 595.12V617.92" stroke="#bdbdbd" stroke-width="1"/>
<rect x="750.5" y="641.2" width="444.4" height="2" fill="#8c8c8c"/>
<rect x="752.1" y="630.05" width="43.9" height="24.3" fill="url(#gu)"/>
<rect x="796" y="630.05" width="58.6" height="24.3" fill="url(#gc)"/>
<path d="M752.6 630.05V653.85H854.1V630.05" fill="none" stroke="#c6c6c6" stroke-width="1"/>
<path d="M796 631.05V653.85" stroke="#bdbdbd" stroke-width="1"/>
<rect x="1021.9" y="630.05" width="28.9" height="24.3" fill="url(#gc)"/>
<path d="M1022.4 630.05V653.85H1050.3V630.05" fill="none" stroke="#c6c6c6" stroke-width="1"/>
<rect x="1059.7" y="630.05" width="9" height="24.3" fill="url(#gc)"/>
<path d="M1060.2 630.05V653.85H1068.2V630.05" fill="none" stroke="#c6c6c6" stroke-width="1"/>
<rect x="1114.4" y="630.05" width="56.2" height="24.3" fill="url(#gc)"/>
<rect x="1170.6" y="630.05" width="22.7" height="24.3" fill="url(#gu)"/>
<path d="M1114.9 630.05V653.85H1192.8V630.05" fill="none" stroke="#c6c6c6" stroke-width="1"/>
<path d="M1170.6 631.05V653.85" stroke="#bdbdbd" stroke-width="1"/>
<rect x="750.5" y="677.13" width="452.4" height="2" fill="#8c8c8c"/>
<rect x="752.1" y="665.98" width="32.3" height="24.3" fill="url(#gu)"/>
<rect x="784.4" y="665.98" width="3.3" height="24.3" fill="url(#gc)"/>
<path d="M752.6 665.98V689.78H787.2V665.98" fill="none" stroke="#c6c6c6" stroke-width="1"/>
<path d="M784.4 666.98V689.78" stroke="#bdbdbd" stroke-width="1"/>
<rect x="795.6" y="665.98" width="9" height="24.3" fill="url(#gc)"/>
<path d="M796.1 665.98V689.78H804.1V665.98" fill="none" stroke="#c6c6c6" stroke-width="1"/>
<rect x="824.2" y="665.98" width="7" height="24.3" fill="url(#gc)"/>
<path d="M824.7 665.98V689.78H830.7V665.98" fill="none" stroke="#c6c6c6" stroke-width="1"/>
<rect x="865.6" y="665.98" width="7.7" height="24.3" fill="url(#gc)"/>
<path d="M866.1 665.98V689.78H872.8V665.98" fill="none" stroke="#c6c6c6" stroke-width="1"/>
<rect x="880" y="665.98" width="8.7" height="24.3" fill="url(#gc)"/>
<path d="M880.5 665.98V689.78H888.2V665.98" fill="none" stroke="#c6c6c6" stroke-width="1"/>
<rect x="990.2" y="665.98" width="6.9" height="24.3" fill="url(#gc)"/>
<path d="M990.7 665.98V689.78H996.6V665.98" fill="none" stroke="#c6c6c6" stroke-width="1"/>
<rect x="1015.5" y="665.98" width="6.7" height="24.3" fill="url(#gc)"/>
<path d="M1016 665.98V689.78H1021.7V665.98" fill="none" stroke="#c6c6c6" stroke-width="1"/>
<rect x="1028.9" y="665.98" width="2" height="24.3" fill="url(#gc)"/>
<path d="M1029.4 665.98V689.78H1030.4V665.98" fill="none" stroke="#c6c6c6" stroke-width="1"/>
<rect x="1120.6" y="665.98" width="7.7" height="24.3" fill="url(#gc)"/>
<path d="M1121.1 665.98V689.78H1127.8V665.98" fill="none" stroke="#c6c6c6" stroke-width="1"/>
<rect x="1135.4" y="665.98" width="32.7" height="24.3" fill="url(#gc)"/>
<path d="M1135.9 665.98V689.78H1167.6V665.98" fill="none" stroke="#c6c6c6" stroke-width="1"/>
<rect x="1177.7" y="665.98" width="23.6" height="24.3" fill="url(#gc)"/>
<path d="M1178.2 665.98V689.78H1200.8V665.98" fill="none" stroke="#c6c6c6" stroke-width="1"/>
<rect x="750.5" y="713.06" width="446.1" height="2" fill="#8c8c8c"/>
<rect x="752.1" y="701.91" width="3.1" height="24.3" fill="url(#gc)"/>
<path d="M752.6 701.91V725.71H754.7V701.91" fill="none" stroke="#c6c6c6" stroke-width="1"/>
<rect x="873.3" y="701.91" width="8.8" height="24.3" fill="url(#gc)"/>
<path d="M873.8 701.91V725.71H881.6V701.91" fill="none" stroke="#c6c6c6" stroke-width="1"/>
<rect x="889.6" y="701.91" width="7.3" height="24.3" fill="url(#gc)"/>
<path d="M890.1 701.91V725.71H896.4V701.91" fill="none" stroke="#c6c6c6" stroke-width="1"/>
<rect x="926.7" y="701.91" width="9.1" height="24.3" fill="url(#gc)"/>
<path d="M927.2 701.91V725.71H935.3V701.91" fill="none" stroke="#c6c6c6" stroke-width="1"/>
<rect x="978.7" y="701.91" width="7" height="24.3" fill="url(#gc)"/>
<path d="M979.2 701.91V725.71H985.2V701.91" fill="none" stroke="#c6c6c6" stroke-width="1"/>
<rect x="993.6" y="701.91" width="7" height="24.3" fill="url(#gc)"/>
<path d="M994.1 701.91V725.71H1000.1V701.91" fill="none" stroke="#c6c6c6" stroke-width="1"/>
<rect x="1007" y="701.91" width="5.3" height="24.3" fill="url(#gc)"/>
<path d="M1007.5 701.91V725.71H1011.8V701.91" fill="none" stroke="#c6c6c6" stroke-width="1"/>
<rect x="1061.9" y="701.91" width="7.7" height="24.3" fill="url(#gc)"/>
<path d="M1062.4 701.91V725.71H1069.1V701.91" fill="none" stroke="#c6c6c6" stroke-width="1"/>
<rect x="1083.5" y="701.91" width="32.7" height="24.3" fill="url(#gc)"/>
<path d="M1084 701.91V725.71H1115.7V701.91" fill="none" stroke="#c6c6c6" stroke-width="1"/>
<rect x="1169.6" y="701.91" width="25.4" height="24.3" fill="url(#gc)"/>
<path d="M1170.1 701.91V725.71H1194.5V701.91" fill="none" stroke="#c6c6c6" stroke-width="1"/>
<rect x="750.5" y="748.99" width="412.1" height="2" fill="#8c8c8c"/>
<rect x="752.1" y="737.84" width="3.1" height="24.3" fill="url(#gc)"/>
<path d="M752.6 737.84V761.64H754.7V737.84" fill="none" stroke="#c6c6c6" stroke-width="1"/>
<rect x="871.9" y="737.84" width="9.1" height="24.3" fill="url(#gc)"/>
<path d="M872.4 737.84V761.64H880.5V737.84" fill="none" stroke="#c6c6c6" stroke-width="1"/>
<rect x="888.3" y="737.84" width="7.1" height="24.3" fill="url(#gc)"/>
<path d="M888.8 737.84V761.64H894.9V737.84" fill="none" stroke="#c6c6c6" stroke-width="1"/>
<rect x="925.4" y="737.84" width="8.6" height="24.3" fill="url(#gc)"/>
<path d="M925.9 737.84V761.64H933.5V737.84" fill="none" stroke="#c6c6c6" stroke-width="1"/>
<rect x="977.5" y="737.84" width="6.9" height="24.3" fill="url(#gc)"/>
<path d="M978 737.84V761.64H983.9V737.84" fill="none" stroke="#c6c6c6" stroke-width="1"/>
<rect x="992.1" y="737.84" width="7" height="24.3" fill="url(#gc)"/>
<path d="M992.6 737.84V761.64H998.6V737.84" fill="none" stroke="#c6c6c6" stroke-width="1"/>
<rect x="1005.7" y="737.84" width="5.5" height="24.3" fill="url(#gc)"/>
<path d="M1006.2 737.84V761.64H1010.7V737.84" fill="none" stroke="#c6c6c6" stroke-width="1"/>
<rect x="1061" y="737.84" width="7.3" height="24.3" fill="url(#gc)"/>
<path d="M1061.5 737.84V761.64H1067.8V737.84" fill="none" stroke="#c6c6c6" stroke-width="1"/>
<rect x="1082.1" y="737.84" width="32.7" height="24.3" fill="url(#gc)"/>
<path d="M1082.6 737.84V761.64H1114.3V737.84" fill="none" stroke="#c6c6c6" stroke-width="1"/>
<rect x="1135.4" y="737.84" width="25.6" height="24.3" fill="url(#gc)"/>
<path d="M1135.9 737.84V761.64H1160.5V737.84" fill="none" stroke="#c6c6c6" stroke-width="1"/>
<rect x="750.5" y="784.92" width="170.5" height="2" fill="#8c8c8c"/>
<rect x="752.1" y="773.77" width="15.4" height="24.3" fill="url(#gu)"/>
<path d="M752.6 773.77V797.57H767V773.77" fill="none" stroke="#c6c6c6" stroke-width="1"/>
<rect x="775.8" y="773.77" width="1.9" height="24.3" fill="url(#gu)"/>
<rect x="777.7" y="773.77" width="124" height="24.3" fill="url(#gc)"/>
<rect x="901.7" y="773.77" width="17.7" height="24.3" fill="url(#gu)"/>
<path d="M776.3 773.77V797.57H918.9V773.77" fill="none" stroke="#c6c6c6" stroke-width="1"/>
<path d="M777.7 774.77V797.57" stroke="#bdbdbd" stroke-width="1"/>
<path d="M901.7 774.77V797.57" stroke="#bdbdbd" stroke-width="1"/>
</g>
<g id="legend">
<rect x="1281.3" y="88.3" width="37.2" height="23.6" fill="#6db33f"/>
<text class="t" x="1324.2" y="110.1" font-family="&quot;Liberation Sans&quot;, sans-serif" font-size="20.8" textLength="270.52" lengthAdjust="spacingAndGlyphs" fill="#232323">Abscisic acid responsiveness</text>
<rect x="1281.3" y="124.22" width="37.2" height="23.6" fill="#ffcc00"/>
<text class="t" x="1324.2" y="143.8" font-family="&quot;Liberation Sans&quot;, sans-serif" font-size="20.8" textLength="193.11" lengthAdjust="spacingAndGlyphs" fill="#232323">Anaerobic induction</text>
<rect x="1281.3" y="160.14" width="37.2" height="23.6" fill="#ee5d80"/>
<text class="t" x="1324.2" y="182" font-family="&quot;Liberation Sans&quot;, sans-serif" font-size="20.8" textLength="249.18" lengthAdjust="spacingAndGlyphs" fill="#232323">Auxin-responsive element</text>
<rect x="1281.3" y="196.06" width="37.2" height="23.6" fill="#00847a"/>
<text class="t" x="1324.2" y="215.5" font-family="&quot;Liberation Sans&quot;, sans-serif" font-size="20.8" textLength="179.55" lengthAdjust="spacingAndGlyphs" fill="#232323">Defense and stress</text>
<rect x="1281.3" y="231.98" width="37.2" height="23.6" fill="#e8001e"/>
<text class="t" x="1324.2" y="253.8" font-family="&quot;Liberation Sans&quot;, sans-serif" font-size="20.8" textLength="298.36" lengthAdjust="spacingAndGlyphs" fill="#232323">Gibberellin responsive element</text>
<rect x="1281.3" y="267.9" width="37.2" height="23.6" fill="#938fb0"/>
<text class="t" x="1324.2" y="289.7" font-family="&quot;Liberation Sans&quot;, sans-serif" font-size="20.8" textLength="317.94" lengthAdjust="spacingAndGlyphs" fill="#232323">Low-temperature responsiveness</text>
<rect x="1281.3" y="303.82" width="37.2" height="23.6" fill="#acd781"/>
<text class="t" x="1324.2" y="325.6" font-family="&quot;Liberation Sans&quot;, sans-serif" font-size="20.8" textLength="205.3" lengthAdjust="spacingAndGlyphs" fill="#232323">MeJA-responsiveness</text>
<rect x="1281.3" y="339.74" width="37.2" height="23.6" fill="#f8a11d"/>
<text class="t" x="1324.2" y="361.4" font-family="&quot;Liberation Sans&quot;, sans-serif" font-size="20.8" textLength="198.09" lengthAdjust="spacingAndGlyphs" fill="#232323">MYBHv1 binding site</text>
<rect x="1281.3" y="375.66" width="37.2" height="23.6" fill="#5f4a8b"/>
<text class="t" x="1324.2" y="397.2" font-family="&quot;Liberation Sans&quot;, sans-serif" font-size="20.8" textLength="220.54" lengthAdjust="spacingAndGlyphs" fill="#232323">Wound responsiveness</text>
<rect x="1281.3" y="411.58" width="37.2" height="23.6" fill="#fbb684"/>
<text class="t" x="1324.2" y="433.4" font-family="&quot;Liberation Sans&quot;, sans-serif" font-size="20.8" textLength="176.93" lengthAdjust="spacingAndGlyphs" fill="#232323">SA-responsiveness</text>
<rect x="1281.3" y="447.5" width="37.2" height="23.6" fill="#7f8a6e"/>
<text class="t" x="1324.2" y="467.3" font-family="&quot;Liberation Sans&quot;, sans-serif" font-size="20.8" textLength="158.74" lengthAdjust="spacingAndGlyphs" fill="#232323">Zein metabolism</text>
<rect x="1281.3" y="483.42" width="37.2" height="23.6" fill="#cc5530"/>
<text class="t" x="1324.2" y="503.4" font-family="&quot;Liberation Sans&quot;, sans-serif" font-size="20.8" textLength="161.85" lengthAdjust="spacingAndGlyphs" fill="#232323">Circadian control</text>
<rect x="1281.3" y="519.34" width="37.2" height="23.6" fill="#55bb8b"/>
<text class="t" x="1324.2" y="540.9" font-family="&quot;Liberation Sans&quot;, sans-serif" font-size="20.8" textLength="229.3" lengthAdjust="spacingAndGlyphs" fill="#232323">Drought responsiveness</text>
<rect x="1281.3" y="555.26" width="37.2" height="23.6" fill="#f08da7"/>
<text class="t" x="1324.2" y="577.3" font-family="&quot;Liberation Sans&quot;, sans-serif" font-size="20.8" textLength="215.03" lengthAdjust="spacingAndGlyphs" fill="#232323">Flavonoid biosynthetic</text>
<rect x="1281.3" y="591.18" width="37.2" height="23.6" fill="#0a66c9"/>
<text class="t" x="1324.2" y="613.5" font-family="&quot;Liberation Sans&quot;, sans-serif" font-size="20.8" textLength="200.5" lengthAdjust="spacingAndGlyphs" fill="#232323">Meristem expression</text>
<rect x="1281.6" y="631" width="35.4" height="25.5" fill="url(#Lc)"/>
<path d="M1282.1 631.5V656H1316.5V631.5" fill="none" stroke="#d0d0d0" stroke-width="1"/>
<rect x="1281.6" y="655" width="35.4" height="1.5" fill="#c4c4c4"/>
<text class="t" x="1324.2" y="649.7" font-family="&quot;Liberation Sans&quot;, sans-serif" font-size="21.6" textLength="39.56" lengthAdjust="spacingAndGlyphs" fill="#232323">CDS</text>
<rect x="1281.6" y="662.5" width="35.4" height="25.5" fill="url(#Lu)"/>
<path d="M1282.1 663V687.5H1316.5V663" fill="none" stroke="#d0d0d0" stroke-width="1"/>
<rect x="1281.6" y="686.5" width="35.4" height="1.5" fill="#c4c4c4"/>
<text class="t" x="1324.2" y="684" font-family="&quot;Liberation Sans&quot;, sans-serif" font-size="21.6" textLength="41.13" lengthAdjust="spacingAndGlyphs" fill="#232323">UTR</text>
</g>
<g id="axisA">
<rect x="132.5" y="821.2" width="564.5" height="2.3" fill="#3a3a3a"/>
<rect x="132.6" y="821.5" width="2.4" height="12.5" fill="#3a3a3a"/>
<text class="t" x="133.8" y="851.8" text-anchor="middle" font-family="&quot;Liberation Sans&quot;, sans-serif" font-size="19.8" textLength="10.95" lengthAdjust="spacingAndGlyphs" fill="#232323">0</text>
<rect x="189.2" y="822" width="1.6" height="11.5" fill="#808080"/>
<text class="t" x="190" y="851.8" text-anchor="middle" font-family="&quot;Liberation Sans&quot;, sans-serif" font-size="19.8" textLength="32.85" lengthAdjust="spacingAndGlyphs" fill="#232323">200</text>
<rect x="245.4" y="822" width="1.6" height="11.5" fill="#808080"/>
<text class="t" x="246.2" y="851.8" text-anchor="middle" font-family="&quot;Liberation Sans&quot;, sans-serif" font-size="19.8" textLength="32.85" lengthAdjust="spacingAndGlyphs" fill="#232323">400</text>
<rect x="301.6" y="822" width="1.6" height="11.5" fill="#808080"/>
<text class="t" x="302.4" y="851.8" text-anchor="middle" font-family="&quot;Liberation Sans&quot;, sans-serif" font-size="19.8" textLength="32.85" lengthAdjust="spacingAndGlyphs" fill="#232323">600</text>
<rect x="357.8" y="822" width="1.6" height="11.5" fill="#808080"/>
<text class="t" x="358.6" y="851.8" text-anchor="middle" font-family="&quot;Liberation Sans&quot;, sans-serif" font-size="19.8" textLength="32.85" lengthAdjust="spacingAndGlyphs" fill="#232323">800</text>
<rect x="413.6" y="821.5" width="2.4" height="12.5" fill="#3a3a3a"/>
<text class="t" x="414.8" y="851.8" text-anchor="middle" font-family="&quot;Liberation Sans&quot;, sans-serif" font-size="19.8" textLength="43.79" lengthAdjust="spacingAndGlyphs" fill="#232323">1000</text>
<rect x="470.2" y="822" width="1.6" height="11.5" fill="#808080"/>
<text class="t" x="471" y="851.8" text-anchor="middle" font-family="&quot;Liberation Sans&quot;, sans-serif" font-size="19.8" textLength="43.79" lengthAdjust="spacingAndGlyphs" fill="#232323">1200</text>
<rect x="526.4" y="822" width="1.6" height="11.5" fill="#808080"/>
<text class="t" x="527.2" y="851.8" text-anchor="middle" font-family="&quot;Liberation Sans&quot;, sans-serif" font-size="19.8" textLength="43.79" lengthAdjust="spacingAndGlyphs" fill="#232323">1400</text>
<rect x="582.6" y="822" width="1.6" height="11.5" fill="#808080"/>
<text class="t" x="583.4" y="851.8" text-anchor="middle" font-family="&quot;Liberation Sans&quot;, sans-serif" font-size="19.8" textLength="43.79" lengthAdjust="spacingAndGlyphs" fill="#232323">1600</text>
<rect x="638.8" y="822" width="1.6" height="11.5" fill="#808080"/>
<text class="t" x="639.6" y="851.8" text-anchor="middle" font-family="&quot;Liberation Sans&quot;, sans-serif" font-size="19.8" textLength="43.79" lengthAdjust="spacingAndGlyphs" fill="#232323">1800</text>
<rect x="694.6" y="821.5" width="2.4" height="12.5" fill="#3a3a3a"/>
<text class="t" x="695.8" y="851.8" text-anchor="middle" font-family="&quot;Liberation Sans&quot;, sans-serif" font-size="19.8" textLength="43.79" lengthAdjust="spacingAndGlyphs" fill="#232323">2000</text>
<text class="t" x="115" y="826.8" font-family="&quot;Liberation Sans&quot;, sans-serif" font-size="19.8" fill="#232323">5'</text>
<text class="t" x="700" y="827.4" font-family="&quot;Liberation Sans&quot;, sans-serif" font-size="19.8" fill="#232323">3'</text>
</g>
<g id="axisB">
<rect x="742" y="821" width="534" height="1.6" fill="#8a8a8a"/>
<rect x="741.6" y="821.5" width="1.6" height="16.8" fill="#8a8a8a"/>
<text class="t" x="743.8" y="857.4" text-anchor="middle" font-family="&quot;Liberation Sans&quot;, sans-serif" font-size="20.9" textLength="11.51" lengthAdjust="spacingAndGlyphs" fill="#232323">0</text>
<rect x="817.74" y="821.5" width="1.6" height="16.8" fill="#8a8a8a"/>
<text class="t" x="822.04" y="857.4" text-anchor="middle" font-family="&quot;Liberation Sans&quot;, sans-serif" font-size="20.9" textLength="46.02" lengthAdjust="spacingAndGlyphs" fill="#232323">1000</text>
<rect x="893.88" y="821.5" width="1.6" height="16.8" fill="#8a8a8a"/>
<text class="t" x="898.18" y="857.4" text-anchor="middle" font-family="&quot;Liberation Sans&quot;, sans-serif" font-size="20.9" textLength="46.02" lengthAdjust="spacingAndGlyphs" fill="#232323">2000</text>
<rect x="970.02" y="821.5" width="1.6" height="16.8" fill="#8a8a8a"/>
<text class="t" x="974.32" y="857.4" text-anchor="middle" font-family="&quot;Liberation Sans&quot;, sans-serif" font-size="20.9" textLength="46.02" lengthAdjust="spacingAndGlyphs" fill="#232323">3000</text>
<rect x="1046.16" y="821.5" width="1.6" height="16.8" fill="#8a8a8a"/>
<text class="t" x="1050.46" y="857.4" text-anchor="middle" font-family="&quot;Liberation Sans&quot;, sans-serif" font-size="20.9" textLength="46.02" lengthAdjust="spacingAndGlyphs" fill="#232323">4000</text>
<rect x="1122.3" y="821.5" width="1.6" height="16.8" fill="#8a8a8a"/>
<text class="t" x="1126.6" y="857.4" text-anchor="middle" font-family="&quot;Liberation Sans&quot;, sans-serif" font-size="20.9" textLength="46.02" lengthAdjust="spacingAndGlyphs" fill="#232323">5000</text>
<rect x="1198.44" y="821.5" width="1.6" height="16.8" fill="#8a8a8a"/>
<text class="t" x="1202.74" y="857.4" text-anchor="middle" font-family="&quot;Liberation Sans&quot;, sans-serif" font-size="20.9" textLength="46.02" lengthAdjust="spacingAndGlyphs" fill="#232323">6000</text>
<rect x="1274.58" y="821.5" width="1.6" height="16.8" fill="#8a8a8a"/>
<text class="t" x="1278.88" y="857.4" text-anchor="middle" font-family="&quot;Liberation Sans&quot;, sans-serif" font-size="20.9" textLength="46.02" lengthAdjust="spacingAndGlyphs" fill="#232323">7000</text>
<text class="t" x="727.5" y="825.6" font-family="&quot;Liberation Sans&quot;, sans-serif" font-size="19.8" fill="#232323">5'</text>
<text class="t" x="1278.5" y="826.5" font-family="&quot;Liberation Sans&quot;, sans-serif" font-size="19.8" fill="#232323">3'</text>
</g>
</svg></body></html>
